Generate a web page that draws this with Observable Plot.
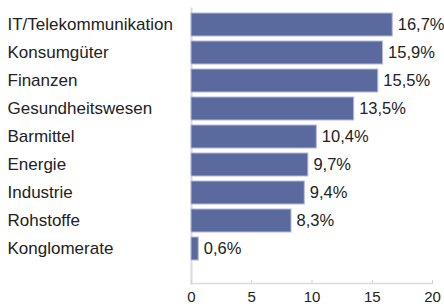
<!DOCTYPE html>
<html>
<head>
<meta charset="utf-8">
<script src="https://cdn.jsdelivr.net/npm/d3@7"></script>
<script src="https://cdn.jsdelivr.net/npm/@observablehq/plot@0.6"></script>
<style>
  html, body { margin: 0; padding: 0; background: #fff; }
  #chart { width: 444px; height: 304px; }
</style>
</head>
<body>
<div id="chart"></div>
<script>
const categories = ["IT/Telekommunikation", "Konsumgüter", "Finanzen", "Gesundheitswesen", "Barmittel", "Energie", "Industrie", "Rohstoffe", "Konglomerate"];
const values = [16.7, 15.9, 15.5, 13.5, 10.4, 9.7, 9.4, 8.3, 0.6];
const xTicks = [0, 5, 10, 15, 20];

const data = categories.map((c, i) => ({category: c, value: values[i]}));
const fmt = v => v.toFixed(1).replace(".", ",") + "%";

const chart = Plot.plot({
  width: 444,
  height: 304,
  marginLeft: 191,
  marginRight: 12,
  marginTop: 8,
  marginBottom: 21,
  style: {fontFamily: "'Liberation Sans', Arial, sans-serif", color: "#222", background: "#fff", overflow: "visible"},
  x: {domain: [0, 20], ticks: xTicks, label: null},
  y: {domain: categories, paddingInner: 0.185, paddingOuter: 0.402, align: 0.16, label: null},
  marks: [
    Plot.frame({anchor: "left", stroke: "#dcdcdc", strokeWidth: 2}),
    Plot.frame({anchor: "bottom", stroke: "#dcdcdc", strokeWidth: 1.5}),
    Plot.axisX({ticks: xTicks, tickSize: -3, stroke: "#d0d0d0", tickFormat: () => "", label: null}),
    Plot.axisX({ticks: xTicks, tickSize: 0, tickPadding: 8, fontSize: 15, fill: "#222", label: null}),
    Plot.axisY({tickSize: 0, tickPadding: 0, textAnchor: "start", dx: -184, fontSize: 17, fill: "#222", label: null}),
    Plot.barX(data, {x: "value", y: "category", fill: "#5b6a9e", stroke: "#b3badb", strokeWidth: 1}),
    Plot.text(data, {x: "value", y: "category", text: d => fmt(d.value), textAnchor: "start", dx: 5, fontSize: 16.5, fill: "#222"})
  ]
});
document.getElementById("chart").appendChild(chart);
</script>
</body>
</html>
